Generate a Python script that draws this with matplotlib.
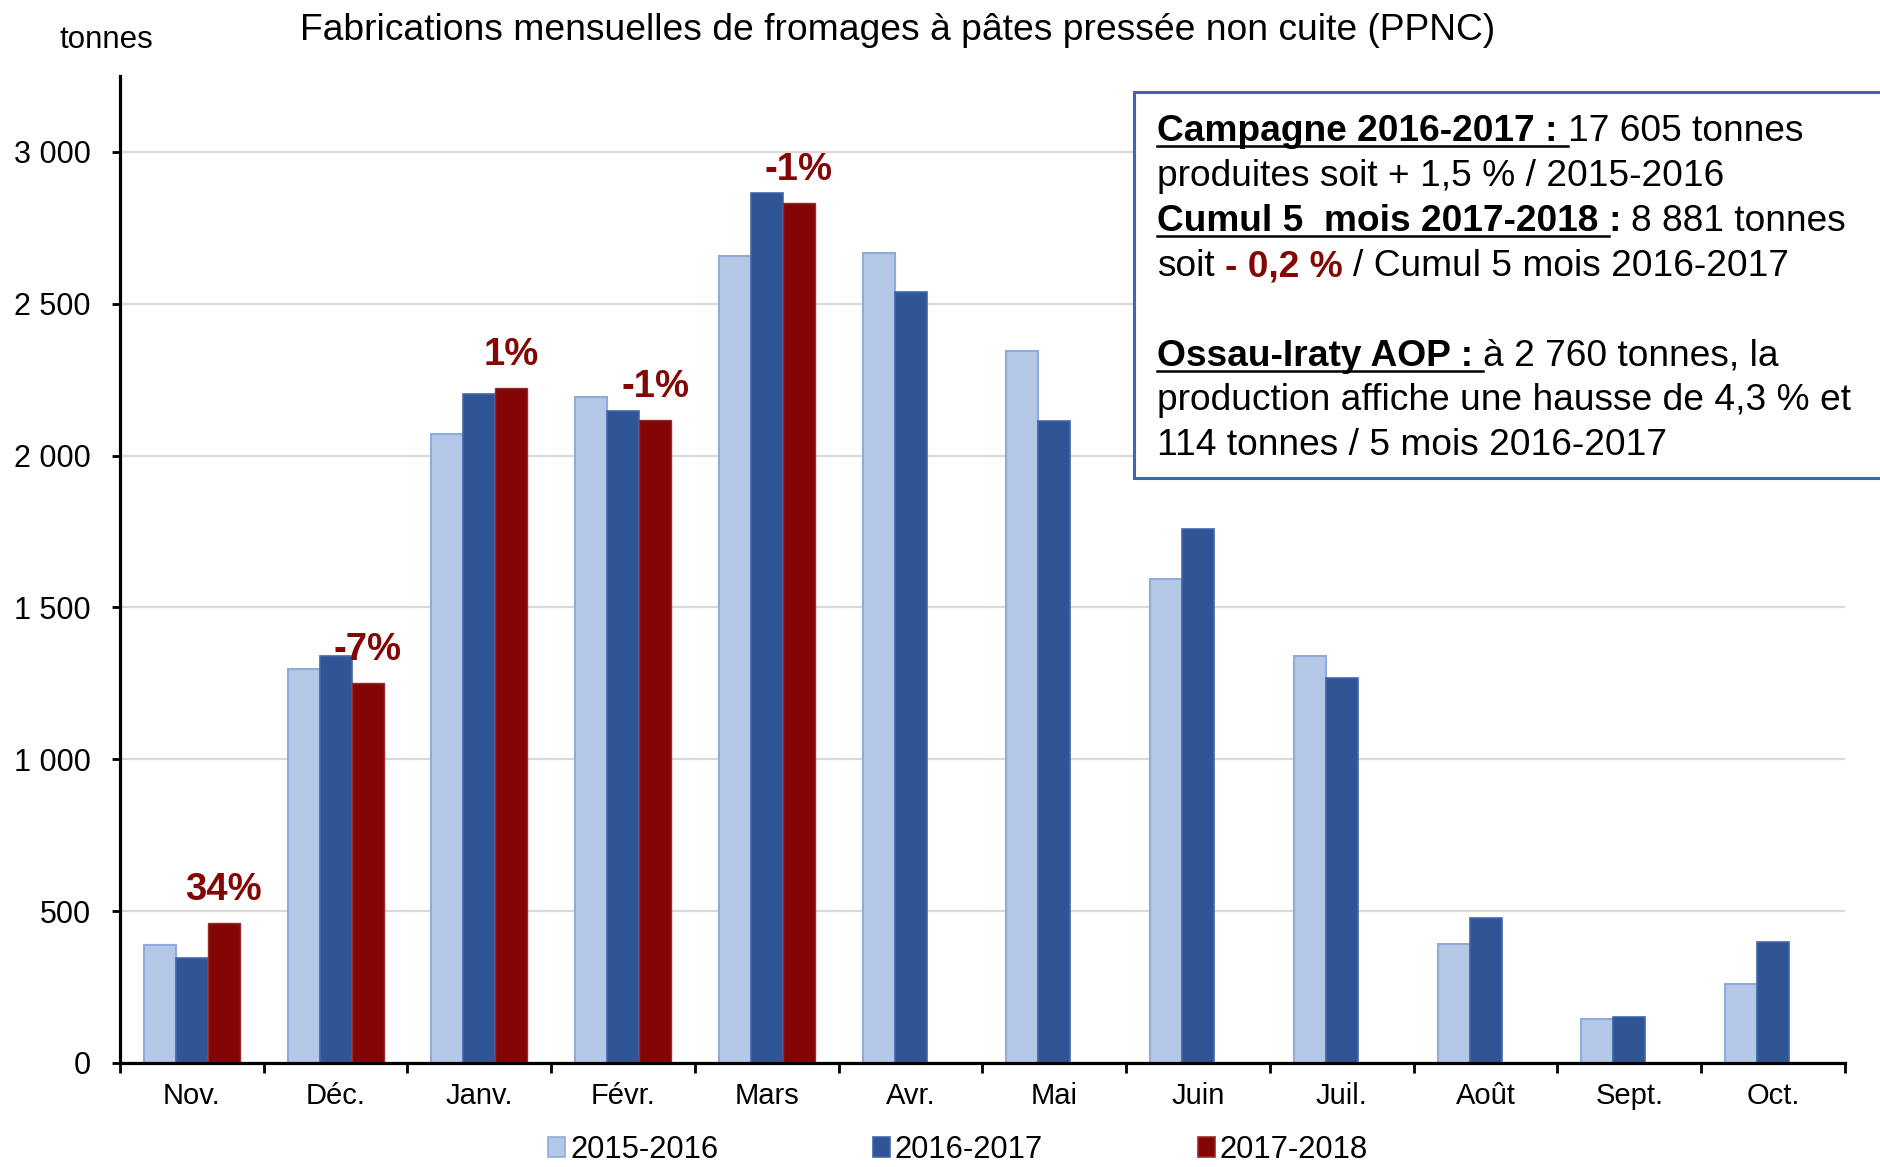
import numpy as np
import matplotlib
matplotlib.use("Agg")
import matplotlib.pyplot as plt
from matplotlib.patches import Patch, Rectangle
from matplotlib.lines import Line2D

plt.rcParams["font.family"] = ["Liberation Sans", "DejaVu Sans"]

# Data (tonnes)
months = ["Nov.", "Déc.", "Janv.", "Févr.", "Mars", "Avr.", "Mai", "Juin",
          "Juil.", "Août", "Sept.", "Oct."]
c2015_2016 = [390, 1298, 2071, 2194, 2656, 2668, 2344, 1593, 1340, 391, 146, 261]
c2016_2017 = [346, 1340, 2202, 2146, 2866, 2540, 2115, 1759, 1269, 478, 150, 399]
c2017_2018 = [460, 1250, 2222, 2117, 2832]
pct_labels = ["34%", "-7%", "1%", "-1%", "-1%"]
series_names = ["2015-2016", "2016-2017", "2017-2018"]
yticks = [0, 500, 1000, 1500, 2000, 2500, 3000]
ytick_labels = ["0", "500", "1 000", "1 500", "2 000", "2 500", "3 000"]

light = "#B4C7E7"
dark = "#2F5597"
red = "#830606"
pct_color = "#840707"

W, H = 1881, 1167
fig = plt.figure(figsize=(W / 100, H / 100), dpi=100)
ax = fig.add_axes([120 / W, 1 - 1063 / H, (1845 - 120) / W, (1063 - 76) / H])

x = np.arange(len(months))
w = 1 / 4.5
red_vals = c2017_2018 + [np.nan] * (len(months) - len(c2017_2018))

ax.bar(x - w, c2015_2016, w, color=light, edgecolor="#8FAADC", linewidth=1.5, zorder=3)
ax.bar(x, c2016_2017, w, color=dark, edgecolor="#4068A8", linewidth=1.2, zorder=3)
ax.bar(x + w, red_vals, w, color=red, edgecolor="#9A2A2A", linewidth=1.0, zorder=3)

for i, lab in enumerate(pct_labels):
    ax.annotate(lab, (x[i] + w, c2017_2018[i]), xytext=(0, 24),
                textcoords="offset points", ha="center", va="center",
                fontsize=27.5, fontweight="bold", color=pct_color, zorder=4)

ax.set_xlim(-0.5, len(months) - 0.5)
ax.set_ylim(0, 3250)
ax.set_yticks(yticks)
ax.set_yticklabels(ytick_labels)
ax.set_xticks(x)
ax.set_xticklabels(months)
ax.set_xticks(np.arange(len(months) + 1) - 0.5, minor=True)
ax.tick_params(axis="x", which="major", length=0, pad=14, labelsize=21)
ax.tick_params(axis="x", which="minor", length=7.5, width=2, direction="out")
ax.tick_params(axis="y", length=6, width=2, direction="out", pad=15, labelsize=22)

ax.grid(axis="y", color="#D9D9D9", linewidth=1.6, zorder=0)
ax.set_axisbelow(True)
for s in ["top", "right"]:
    ax.spines[s].set_visible(False)
for s in ["left", "bottom"]:
    ax.spines[s].set_linewidth(2.3)
    ax.spines[s].set_zorder(5)

fig.text(898 / W, 1 - 31 / H,
         "Fabrications mensuelles de fromages à pâtes pressée non cuite (PPNC)",
         ha="center", va="center", fontsize=26.8)
fig.text(106 / W, 1 - 40 / H, "tonnes", ha="center", va="center", fontsize=22.5)

handles = [Patch(facecolor=light, edgecolor="#8FAADC", linewidth=1.2),
           Patch(facecolor=dark, edgecolor="#4068A8", linewidth=1.2),
           Patch(facecolor=red, edgecolor="#9A2A2A", linewidth=1.2)]
fig.legend(handles, series_names, loc="center", bbox_to_anchor=(958 / W, 17 / H),
           ncol=3, frameon=False, fontsize=22.3, handlelength=0.55, handleheight=0.6,
           handletextpad=0.15, columnspacing=5.0, borderpad=0.1)

# annotation box
box = Rectangle((1134 / W, 1 - 478 / H), (1950 - 1134) / W, (478 - 92) / H,
                transform=fig.transFigure, facecolor="white", edgecolor="#3F66B0",
                linewidth=2.2, zorder=10, clip_on=False)
fig.add_artist(box)

renderer = fig.canvas.get_renderer()
fs = 26.7
space = fs * 100 / 72 * 0.278
x0 = 1157

lines = [
    (141, [("Campagne 2016-2017 : ", "bold", "k", True), ("17 605 tonnes", "normal", "k", False)]),
    (186, [("produites soit + 1,5 % / 2015-2016", "normal", "k", False)]),
    (231, [("Cumul 5  mois 2017-2018 ", "bold", "k", True), (": ", "bold", "k", False),
           ("8 881 tonnes", "normal", "k", False)]),
    (276, [("soit ", "normal", "k", False), ("- 0,2 %", "bold", pct_color, False),
           (" / Cumul 5 mois 2016-2017", "normal", "k", False)]),
    (366, [("Ossau-Iraty AOP : ", "bold", "k", True), ("à 2 760 tonnes, la", "normal", "k", False)]),
    (410, [("production affiche une hausse de 4,3 % et", "normal", "k", False)]),
    (455, [("114 tonnes / 5 mois 2016-2017", "normal", "k", False)]),
]

for base, pieces in lines:
    cx = x0
    for txt, weight, col, under in pieces:
        lead = len(txt) - len(txt.lstrip(" "))
        cx += lead * space
        core = txt.strip(" ")
        t = fig.text(cx / W, 1 - base / H, core, ha="left", va="baseline",
                     fontsize=fs, fontweight=weight, color=col, zorder=11)
        wpx = t.get_window_extent(renderer).width
        end = cx + wpx + (len(txt) - len(txt.rstrip(" "))) * space
        if under:
            fig.add_artist(Line2D([(cx - lead * space) / W, end / W],
                                  [1 - (base + 5) / H, 1 - (base + 5) / H],
                                  transform=fig.transFigure, color="k",
                                  linewidth=1.8, zorder=11))
        cx = end

fig.savefig("out.png", dpi=100)
